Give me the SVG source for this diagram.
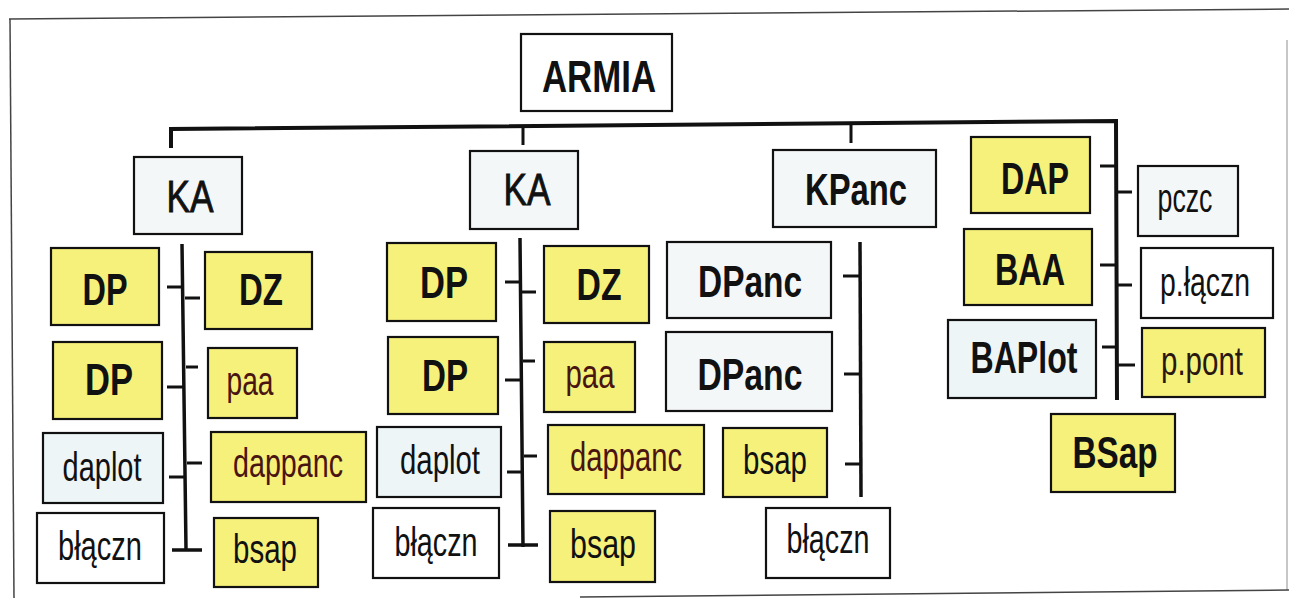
<svg xmlns="http://www.w3.org/2000/svg" width="1289" height="598" viewBox="0 0 1289 598">
<style>
.box{stroke:#111;stroke-width:2.2}
.y{fill:#f5f17a}
.w{fill:#ffffff}
.g{fill:#f4f7f8}
.b{fill:#eef5f7}
.t{font-family:"Liberation Sans",Arial,sans-serif;text-anchor:middle;fill:#111}
.big{font-size:44px;font-weight:bold}
.ka{font-size:45px;stroke:#111;stroke-width:0.9}
.sm{font-size:40px}
.red{fill:#4a1410}
.ln{stroke:#111;fill:none;stroke-linecap:butt}
.frame{stroke:#444;stroke-width:1.5;fill:none}
</style>
<rect width="1289" height="598" fill="#ffffff"/>
<g id="frame">
<path class="frame" d="M9,19 L1289,9"/>
<path class="frame" d="M10,19 L14,598"/>
<path class="frame" d="M580,597 L1289,590"/>
<path class="frame" d="M1287,40 L1287,590" stroke-opacity="0.4"/>
</g>
<g id="connectors">
<path class="ln" stroke-width="4" d="M171,148 L171,129 L1116,121 L1117,400"/>
<path class="ln" stroke-width="3" d="M523,128 L523,145 M851,124 L851,143"/>
<path class="ln" stroke-width="3.5" d="M182,244 L186,549 M172,550 L202,550"/>
<path class="ln" stroke-width="3" d="M167,287 L182,287 M185,298 L200,298 M167,387 L183,387 M186,367 L198,367 M169,477 L185,477 M187,463 L202,463"/>
<path class="ln" stroke-width="3.5" d="M520,238 L523,547 M508,545 L538,545"/>
<path class="ln" stroke-width="3" d="M505,282 L520,282 M522,292 L536,292 M505,380 L521,380 M523,361 L535,361 M507,472 L522,472 M524,456 L537,456"/>
<path class="ln" stroke-width="3.5" d="M860,242 L861,497"/>
<path class="ln" stroke-width="3" d="M843,276 L860,276 M844,374 L860,374 M845,464 L860,464"/>
<path class="ln" stroke-width="3" d="M1100,166 L1115,166 M1117,192 L1132,192 M1100,265 L1115,265 M1117,285 L1132,285 M1102,347 L1115,347 M1117,365 L1135,365"/>
</g>
<g id="armia"><rect class="box w" x="521" y="34" width="151" height="77"/><text class="t big" x="599" y="92" textLength="114" lengthAdjust="spacingAndGlyphs">ARMIA</text></g>
<g id="ka1"><rect class="box g" x="134" y="157" width="108" height="77"/><text class="t ka" x="190" y="212" textLength="47" lengthAdjust="spacingAndGlyphs">KA</text></g>
<g id="ka2"><rect class="box g" x="470" y="151" width="108" height="78"/><text class="t ka" x="527" y="205" textLength="47" lengthAdjust="spacingAndGlyphs">KA</text></g>
<g id="kpanc"><rect class="box g" x="773" y="150" width="163" height="77"/><text class="t big" x="856" y="205" textLength="102" lengthAdjust="spacingAndGlyphs">KPanc</text></g>

<g id="dp1"><rect class="box y" x="51" y="248" width="108" height="77"/><text class="t big" x="105" y="305" textLength="45" lengthAdjust="spacingAndGlyphs">DP</text></g>
<g id="dz1"><rect class="box y" x="205" y="252" width="107" height="77"/><text class="t big" x="261" y="305" textLength="44" lengthAdjust="spacingAndGlyphs">DZ</text></g>
<g id="dp2"><rect class="box y" x="53" y="342" width="109" height="77"/><text class="t big" x="109" y="395" textLength="48" lengthAdjust="spacingAndGlyphs">DP</text></g>
<g id="paa1"><rect class="box y" x="208" y="348" width="89" height="70"/><text class="t sm red" x="250" y="395" textLength="47" lengthAdjust="spacingAndGlyphs">paa</text></g>
<g id="daplot1"><rect class="box b" x="43" y="433" width="120" height="70"/><text class="t sm" x="102" y="481" textLength="79" lengthAdjust="spacingAndGlyphs">daplot</text></g>
<g id="dappanc1"><rect class="box y" x="211" y="432" width="155" height="70"/><text class="t sm red" x="288" y="477" textLength="110" lengthAdjust="spacingAndGlyphs">dappanc</text></g>
<g id="blaczn1"><rect class="box w" x="37" y="513" width="127" height="70"/><text class="t sm" x="100" y="560" textLength="84" lengthAdjust="spacingAndGlyphs">błączn</text></g>
<g id="bsap1"><rect class="box y" x="214" y="518" width="104" height="69"/><text class="t sm" x="265" y="563" textLength="64" lengthAdjust="spacingAndGlyphs">bsap</text></g>

<g id="dp3"><rect class="box y" x="387" y="243" width="109" height="78"/><text class="t big" x="444" y="298" textLength="48" lengthAdjust="spacingAndGlyphs">DP</text></g>
<g id="dz2"><rect class="box y" x="544" y="246" width="105" height="77"/><text class="t big" x="599" y="300" textLength="45" lengthAdjust="spacingAndGlyphs">DZ</text></g>
<g id="dp4"><rect class="box y" x="388" y="337" width="110" height="77"/><text class="t big" x="445" y="391" textLength="46" lengthAdjust="spacingAndGlyphs">DP</text></g>
<g id="paa2"><rect class="box y" x="544" y="342" width="91" height="70"/><text class="t sm red" x="590" y="388" textLength="49" lengthAdjust="spacingAndGlyphs">paa</text></g>
<g id="daplot2"><rect class="box b" x="377" y="427" width="124" height="70"/><text class="t sm" x="440" y="474" textLength="80" lengthAdjust="spacingAndGlyphs">daplot</text></g>
<g id="dappanc2"><rect class="box y" x="548" y="425" width="156" height="69"/><text class="t sm red" x="626" y="471" textLength="112" lengthAdjust="spacingAndGlyphs">dappanc</text></g>
<g id="blaczn2"><rect class="box w" x="373" y="508" width="126" height="70"/><text class="t sm" x="436" y="556" textLength="83" lengthAdjust="spacingAndGlyphs">błączn</text></g>
<g id="bsap2"><rect class="box y" x="550" y="511" width="105" height="71"/><text class="t sm" x="603" y="558" textLength="66" lengthAdjust="spacingAndGlyphs">bsap</text></g>

<g id="dpanc1"><rect class="box g" x="667" y="242" width="164" height="76"/><text class="t big" x="750" y="297" textLength="104" lengthAdjust="spacingAndGlyphs">DPanc</text></g>
<g id="dpanc2"><rect class="box g" x="666" y="332" width="166" height="79"/><text class="t big" x="750" y="390" textLength="105" lengthAdjust="spacingAndGlyphs">DPanc</text></g>
<g id="bsap3"><rect class="box y" x="723" y="428" width="104" height="69"/><text class="t sm" x="775" y="474" textLength="64" lengthAdjust="spacingAndGlyphs">bsap</text></g>
<g id="blaczn3"><rect class="box w" x="766" y="508" width="124" height="70"/><text class="t sm" x="828" y="553" textLength="83" lengthAdjust="spacingAndGlyphs">błączn</text></g>

<g id="dap"><rect class="box y" x="971" y="137" width="119" height="76"/><text class="t big" x="1035" y="194" textLength="68" lengthAdjust="spacingAndGlyphs">DAP</text></g>
<g id="baa"><rect class="box y" x="964" y="229" width="128" height="76"/><text class="t big" x="1030" y="285" textLength="70" lengthAdjust="spacingAndGlyphs">BAA</text></g>
<g id="baplot"><rect class="box b" x="948" y="320" width="148" height="78"/><text class="t big" x="1024" y="373" textLength="107" lengthAdjust="spacingAndGlyphs">BAPlot</text></g>
<g id="bsap4"><rect class="box y" x="1051" y="414" width="124" height="78"/><text class="t big" x="1115" y="468" textLength="85" lengthAdjust="spacingAndGlyphs">BSap</text></g>
<g id="pczc"><rect class="box g" x="1138" y="166" width="100" height="70"/><text class="t sm" x="1185" y="212" textLength="55" lengthAdjust="spacingAndGlyphs">pczc</text></g>
<g id="placzn"><rect class="box w" x="1141" y="248" width="132" height="70"/><text class="t sm" x="1205" y="296" textLength="90" lengthAdjust="spacingAndGlyphs">p.łączn</text></g>
<g id="ppont"><rect class="box y" x="1142" y="328" width="123" height="69"/><text class="t sm" x="1202" y="375" textLength="82" lengthAdjust="spacingAndGlyphs" style="fill:#2a1810">p.pont</text></g>
</svg>
